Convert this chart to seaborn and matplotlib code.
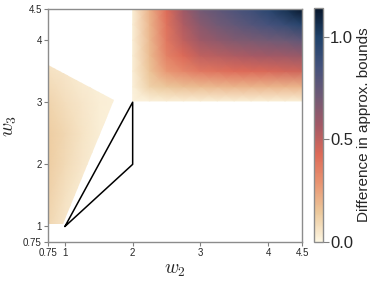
import numpy as np
import matplotlib
matplotlib.use("Agg")
import matplotlib.pyplot as plt
from matplotlib.patches import Polygon
import seaborn as sns

# ---- data ----
# upper-right region (knots, step 0.25 in w2 and w3)
ur_w2 = [2.0, 2.25, 2.5, 2.75, 3.0, 3.25, 3.5, 3.75, 4.0, 4.25, 4.5]
ur_w3 = [3.02, 3.25, 3.5, 3.75, 4.0, 4.25, 4.5]
ur_diff = [
    [0.01, 0.02, 0.03, 0.03, 0.03, 0.03, 0.03, 0.03, 0.03, 0.03, 0.03],
    [0.02, 0.12, 0.15, 0.17, 0.18, 0.19, 0.20, 0.20, 0.20, 0.20, 0.20],
    [0.03, 0.16, 0.28, 0.33, 0.38, 0.40, 0.42, 0.43, 0.44, 0.45, 0.46],
    [0.03, 0.18, 0.35, 0.43, 0.50, 0.52, 0.54, 0.56, 0.57, 0.58, 0.60],
    [0.03, 0.19, 0.38, 0.50, 0.58, 0.62, 0.66, 0.68, 0.70, 0.72, 0.76],
    [0.03, 0.20, 0.40, 0.54, 0.64, 0.70, 0.75, 0.80, 0.85, 0.90, 0.97],
    [0.03, 0.21, 0.42, 0.58, 0.70, 0.76, 0.82, 0.88, 0.96, 1.05, 1.14],
]

# left region (knots) and its outline
lf_w2 = [0.75, 1.0, 1.25, 1.5, 1.75]
lf_w3 = [1.0, 1.5, 2.0, 2.5, 3.0, 3.5, 3.6]
lf_diff = [
    [0.10, 0.05, 0.02, 0.01, 0.00],
    [0.12, 0.07, 0.03, 0.01, 0.00],
    [0.13, 0.09, 0.05, 0.02, 0.01],
    [0.13, 0.10, 0.06, 0.03, 0.01],
    [0.11, 0.08, 0.05, 0.03, 0.02],
    [0.07, 0.05, 0.03, 0.02, 0.01],
    [0.06, 0.04, 0.03, 0.02, 0.01],
]
lf_outline_w2 = [0.75, 0.97, 1.73, 0.75]
lf_outline_w3 = [1.04, 1.04, 3.03, 3.60]

# triangle outline
tri_w2 = [1, 2, 2, 1]
tri_w3 = [1, 3, 2, 1]

ticks = [0.75, 1, 2, 3, 4, 4.5]
tick_labels = ["0.75", "1", "2", "3", "4", "4.5"]
cbar_ticks = [0.0, 0.5, 1.0]
vmax = 1.14

# ---- style ----
sns.set_theme(style="ticks")
plt.rcParams["font.family"] = ["Liberation Sans", "DejaVu Sans"]
plt.rcParams["mathtext.fontset"] = "cm"

cmap = sns.blend_palette(
    ["#fdf6e2", "#ecc99c", "#e99572", "#dd6a58", "#a25966",
     "#6e5a76", "#44527c", "#20426a", "#08172b"], as_cmap=True)

fig = plt.figure(figsize=(3.74, 2.86), dpi=100)
ax = fig.add_axes([48 / 374, 1 - 242 / 286, 254 / 374, 233 / 286])
cax = fig.add_axes([314 / 374, 1 - 242 / 286, 9 / 374, 234 / 286])

mesh = ax.pcolormesh(ur_w2, ur_w3, np.array(ur_diff), shading="gouraud",
                     cmap=cmap, vmin=0, vmax=vmax)
lmesh = ax.pcolormesh(lf_w2, lf_w3, np.array(lf_diff), shading="gouraud",
                      cmap=cmap, vmin=0, vmax=vmax)
clip = Polygon(np.column_stack([lf_outline_w2, lf_outline_w3]), closed=True,
               transform=ax.transData, facecolor="none", edgecolor="none")
ax.add_patch(clip)
lmesh.set_clip_path(clip)

sns.lineplot(x=tri_w2, y=tri_w3, sort=False, color="black", lw=1.1, ax=ax,
             estimator=None)

ax.set_xlim(0.75, 4.5)
ax.set_ylim(0.75, 4.5)
ax.set_xticks(ticks)
ax.set_xticklabels(tick_labels)
ax.set_yticks(ticks)
ax.set_yticklabels(tick_labels)
ax.tick_params(labelsize=7, length=3, width=0.8, color="#808080", pad=1.5)
for s in ax.spines.values():
    s.set_visible(True)
    s.set_color("#8c8c8c")
    s.set_linewidth(1.0)
ax.set_xlabel(r"$w_2$", fontsize=14, labelpad=3)
ax.set_ylabel(r"$w_3$", fontsize=14, labelpad=3)

cb = fig.colorbar(mesh, cax=cax)
cb.set_ticks(cbar_ticks)
cb.set_ticklabels(["0.0", "0.5", "1.0"])
cb.ax.tick_params(labelsize=12, length=4, width=0.8, color="#808080", pad=1)
cb.outline.set_edgecolor("#8c8c8c")
cb.outline.set_linewidth(1.0)
cb.set_label("Difference in approx. bounds", fontsize=11, labelpad=3)

fig.savefig("out.png", dpi=100)
